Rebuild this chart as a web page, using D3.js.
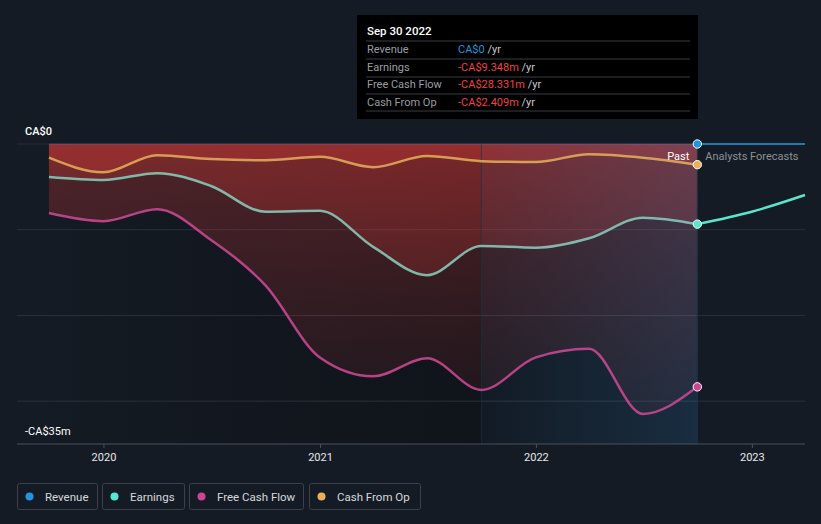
<!DOCTYPE html>
<html>
<head>
<meta charset="utf-8">
<script src="https://cdn.jsdelivr.net/npm/d3@7"></script>
<style>
  body { margin: 0; background: #151b24; font-family: Roboto, "Noto Sans", sans-serif; }
  svg { display: block; }
</style>
</head>
<body>
<svg id="chart" width="821" height="524"></svg>
<script>
// quarterly trailing-twelve-month values, CA$ millions
const dates = ["2019-09-30", "2019-12-31", "2020-03-31", "2020-06-30", "2020-09-30", "2020-12-31",
  "2021-03-31", "2021-06-30", "2021-09-30", "2021-12-31", "2022-03-31", "2022-06-30", "2022-09-30"];
const revenue = [0, 0, 0, 0, 0, 0, 0, 0, 0, 0, 0, 0, 0];
const earnings = [-3.85, -4.2, -3.4, -4.9, -7.9, -7.8, -12.0, -15.3, -11.9, -12.1, -11.0, -8.6, -9.348];
const freeCashFlow = [-8.05, -9.0, -7.6, -11.2, -16.5, -24.9, -27.1, -25.0, -28.7, -24.9, -23.9, -31.5, -28.331];
const cashFromOp = [-1.6, -3.3, -1.3, -1.75, -1.9, -1.5, -2.7, -1.4, -2.0, -2.1, -1.2, -1.6, -2.409];

const forecastDates = ["2022-09-30", "2022-12-31", "2023-03-31"];
const earningsForecast = [-9.348, -7.9, -5.95];
const revenueForecast = [0, 0, 0];

const yTicks = [0, -35];
const yTickLabels = ["CA$0", "-CA$35m"];
const xTicks = ["2020-01-01", "2021-01-01", "2022-01-01", "2023-01-01"];

const parse = d3.timeParse("%Y-%m-%d");
const svg = d3.select("#chart");

const x = d3.scaleTime()
  .domain([parse("2019-08-07"), parse("2023-03-31")])
  .range([17, 805]);
const y = d3.scaleLinear().domain([-35, 0]).range([444, 144]);

const past = (vals) => dates.map((d, i) => ({ date: parse(d), v: vals[i] }));
const fut = (vals) => forecastDates.map((d, i) => ({ date: parse(d), v: vals[i] }));

const line = d3.line().x((d) => x(d.date)).y((d) => y(d.v)).curve(d3.curveMonotoneX);
const area = d3.area().x((d) => x(d.date)).y0(y(0)).y1((d) => y(d.v)).curve(d3.curveMonotoneX);

const defs = svg.append("defs");
const redGrad = defs.append("linearGradient").attr("id", "red")
  .attr("gradientUnits", "userSpaceOnUse").attr("x1", 0).attr("x2", 0).attr("y1", y(0)).attr("y2", y(-35));
redGrad.append("stop").attr("offset", 0).attr("stop-color", "#d03836").attr("stop-opacity", 0.32);
redGrad.append("stop").attr("offset", 1).attr("stop-color", "#d03836").attr("stop-opacity", 0.04);

const blueGrad = defs.append("linearGradient").attr("id", "blue").attr("x1", 0).attr("x2", 1).attr("y1", 0).attr("y2", 0);
blueGrad.append("stop").attr("offset", 0).attr("stop-color", "#3a86c8").attr("stop-opacity", 0.06);
blueGrad.append("stop").attr("offset", 1).attr("stop-color", "#3a86c8").attr("stop-opacity", 0.22);

const darkGrad = defs.append("linearGradient").attr("id", "dark").attr("x1", 0).attr("x2", 1).attr("y1", 0).attr("y2", 0);
darkGrad.append("stop").attr("offset", 0).attr("stop-color", "#0a0d11").attr("stop-opacity", 0.05);
darkGrad.append("stop").attr("offset", 0.67).attr("stop-color", "#0a0d11").attr("stop-opacity", 0.5);
darkGrad.append("stop").attr("offset", 1).attr("stop-color", "#0a0d11").attr("stop-opacity", 0.5);

// darker base under the past data
svg.append("rect")
  .attr("x", x(parse(dates[0]))).attr("y", y(0))
  .attr("width", x(parse(dates[12])) - x(parse(dates[0])))
  .attr("height", y(-35) - y(0))
  .attr("fill", "url(#dark)");

// gridlines
svg.append("g").selectAll("line")
  .data([0, -10, -20, -30])
  .join("line")
  .attr("x1", 17).attr("x2", 805)
  .attr("y1", (d) => y(d)).attr("y2", (d) => y(d))
  .attr("stroke", "#2a303a").attr("stroke-width", 1);

// red areas
[cashFromOp, earnings, freeCashFlow].forEach((s) => {
  svg.append("path").datum(past(s)).attr("d", area).attr("fill", "url(#red)");
});

// last-year highlight
const hx0 = x(parse("2021-09-30")), hx1 = x(parse("2022-09-30"));
svg.append("rect").attr("x", hx0).attr("y", y(0)).attr("width", hx1 - hx0).attr("height", y(-35) - y(0))
  .attr("fill", "url(#blue)");
svg.selectAll(".vline").data([hx0, hx1]).join("line").attr("class", "vline")
  .attr("x1", (d) => d).attr("x2", (d) => d).attr("y1", y(0)).attr("y2", y(-35))
  .attr("stroke", "#1e3346").attr("stroke-width", 1).attr("opacity", (d, i) => (i === 0 ? 0.6 : 1));

// x axis
const xAxis = svg.append("g").attr("transform", `translate(0,${y(-35)})`);
xAxis.append("line").attr("x1", 17).attr("x2", 805).attr("stroke", "#4a505a");
xAxis.selectAll(".tick").data(xTicks).join("g").attr("class", "tick")
  .attr("transform", (d) => `translate(${x(parse(d))},0)`)
  .call((g) => {
    g.append("line").attr("y2", 4).attr("stroke", "#4a505a");
    g.append("text").attr("y", 17).attr("text-anchor", "middle").attr("fill", "#e6e8eb")
      .attr("font-size", 11).text((d) => d.slice(0, 4));
  });

// y labels
svg.selectAll(".ylab").data(yTicks).join("text").attr("class", "ylab")
  .attr("x", 25).attr("y", (d, i) => y(d) - 9)
  .attr("fill", "#ffffff").attr("font-size", 11).attr("font-weight", (d, i) => (i === 0 ? 500 : 400))
  .text((d, i) => yTickLabels[i]);

// lines
const colors = { revenue: "#2394df", earnings: "#58e6cf", fcf: "#c94790", cfo: "#e8b05a" };
svg.append("path").datum(past(revenue)).attr("d", line).attr("fill", "none")
  .attr("stroke", colors.revenue).attr("stroke-width", 1.5).attr("opacity", 0.25);
svg.append("path").datum(past(cashFromOp)).attr("d", line).attr("fill", "none")
  .attr("stroke", colors.cfo).attr("stroke-width", 2.5).attr("opacity", 0.85);
svg.append("path").datum(past(earnings)).attr("d", line).attr("fill", "none")
  .attr("stroke", "#85c9b8").attr("stroke-width", 2.5).attr("opacity", 0.9);
svg.append("path").datum(past(freeCashFlow)).attr("d", line).attr("fill", "none")
  .attr("stroke", colors.fcf).attr("stroke-width", 2.5).attr("opacity", 0.9);

svg.append("path").datum(fut(revenueForecast)).attr("d", line).attr("fill", "none")
  .attr("stroke", colors.revenue).attr("stroke-width", 1.5);
svg.append("path").datum(fut(earningsForecast)).attr("d", line).attr("fill", "none")
  .attr("stroke", colors.earnings).attr("stroke-width", 2.5);

// end points
const last = dates.length - 1;
[[revenue, colors.revenue], [cashFromOp, colors.cfo], [earnings, colors.earnings], [freeCashFlow, colors.fcf]]
  .forEach(([s, c]) => {
    svg.append("circle").attr("cx", x(parse(dates[last]))).attr("cy", y(s[last])).attr("r", 4.2)
      .attr("fill", c).attr("stroke", "#ffffff").attr("stroke-width", 1);
  });

svg.append("text").attr("x", hx1 - 8).attr("y", 160).attr("text-anchor", "end")
  .attr("fill", "#ffffff").attr("font-size", 11).text("Past");
svg.append("text").attr("x", hx1 + 8).attr("y", 160)
  .attr("fill", "#8b9099").attr("font-size", 11).text("Analysts Forecasts");

// tooltip
const tip = svg.append("g").attr("transform", "translate(357,15)");
tip.append("rect").attr("width", 341).attr("height", 104).attr("fill", "#000000");
tip.append("text").attr("x", 10).attr("y", 20).attr("fill", "#ffffff").attr("font-size", 11.5)
  .attr("font-weight", 500).text("Sep 30 2022");
const rows = [
  ["Revenue", "CA$0", "#2394df"],
  ["Earnings", "-CA$9.348m", "#f04040"],
  ["Free Cash Flow", "-CA$28.331m", "#f04040"],
  ["Cash From Op", "-CA$2.409m", "#f04040"]
];
[26, 44, 62, 79, 96].forEach((ly) => {
  tip.append("line").attr("x1", 9).attr("x2", 333).attr("y1", ly).attr("y2", ly)
    .attr("stroke", "#3a3d42").attr("stroke-width", 1);
});
rows.forEach((r, i) => {
  const ty = 38 + i * 17.5;
  tip.append("text").attr("x", 10).attr("y", ty).attr("fill", "#9a9ea4").attr("font-size", 11).text(r[0]);
  const t = tip.append("text").attr("x", 101).attr("y", ty).attr("font-size", 11);
  t.append("tspan").attr("fill", r[2]).text(r[1]);
  t.append("tspan").attr("fill", "#c8cbd0").text(" /yr");
});

// legend
const legendItems = [
  ["Revenue", colors.revenue, 17, 80],
  ["Earnings", colors.earnings, 102, 82],
  ["Free Cash Flow", colors.fcf, 189, 114],
  ["Cash From Op", colors.cfo, 309, 111]
];
const legend = svg.append("g").attr("transform", "translate(0,483)");
legendItems.forEach(([name, c, lx, w]) => {
  const g = legend.append("g").attr("transform", `translate(${lx},0)`);
  g.append("rect").attr("x", 0.5).attr("y", 0.5).attr("width", w).attr("height", 26).attr("rx", 2)
    .attr("fill", "none").attr("stroke", "#3a414c");
  g.append("circle").attr("cx", 12.5).attr("cy", 13.5).attr("r", 4).attr("fill", c);
  g.append("text").attr("x", 28).attr("y", 17.5).attr("fill", "#d6d9de").attr("font-size", 11.5).text(name);
});
</script>
</body>
</html>
